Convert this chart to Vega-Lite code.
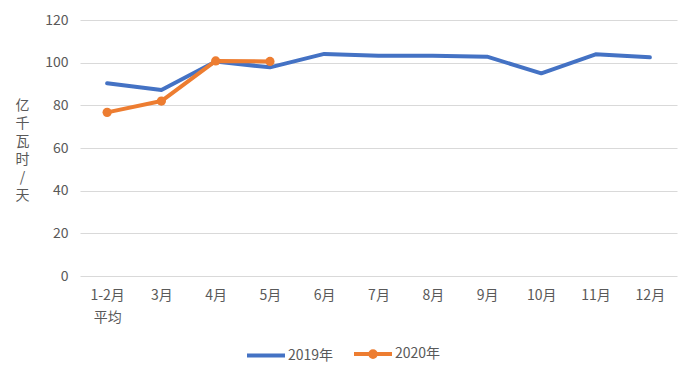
{
  "$schema": "https://vega.github.io/schema/vega-lite/v6.json",
  "width": 597,
  "height": 256,
  "autosize": {"type": "none"},
  "padding": {"left": 80, "top": 20, "right": 15, "bottom": 92},
  "background": "white",
  "config": {
    "view": {"stroke": null},
    "font": "Noto Sans CJK SC"
  },
  "data": {
    "values": [
      {"month": "1-2月|平均", "series": "2019年", "value": 90.3},
      {"month": "3月", "series": "2019年", "value": 87.2},
      {"month": "4月", "series": "2019年", "value": 100.5},
      {"month": "5月", "series": "2019年", "value": 97.8},
      {"month": "6月", "series": "2019年", "value": 104.1},
      {"month": "7月", "series": "2019年", "value": 103.3},
      {"month": "8月", "series": "2019年", "value": 103.3},
      {"month": "9月", "series": "2019年", "value": 102.8},
      {"month": "10月", "series": "2019年", "value": 95.0},
      {"month": "11月", "series": "2019年", "value": 103.9},
      {"month": "12月", "series": "2019年", "value": 102.5},
      {"month": "1-2月|平均", "series": "2020年", "value": 76.7},
      {"month": "3月", "series": "2020年", "value": 82.0},
      {"month": "4月", "series": "2020年", "value": 100.8},
      {"month": "5月", "series": "2020年", "value": 100.6}
    ]
  },
  "encoding": {
    "x": {
      "field": "month",
      "type": "ordinal",
      "sort": null,
      "scale": {"type": "point", "padding": 0.5},
      "axis": {
        "title": null,
        "labelAngle": 0,
        "labelExpr": "split(datum.label, '|')",
        "labelLineHeight": 22,
        "labelPadding": 12,
        "labelFontSize": 14,
        "labelColor": "#595959",
        "labelFont": "Noto Sans CJK SC",
        "domain": false,
        "ticks": false,
        "grid": false
      }
    },
    "y": {
      "field": "value",
      "type": "quantitative",
      "scale": {"domain": [0, 120], "nice": false},
      "axis": {
        "values": [0, 20, 40, 60, 80, 100, 120],
        "domain": false,
        "ticks": false,
        "gridColor": "#D9D9D9",
        "gridWidth": 1.2,
        "labelPadding": 12,
        "labelFontSize": 14,
        "labelColor": "#595959",
        "labelFont": "Noto Sans CJK SC",
        "title": ["亿", "千", "瓦", "时", "/", "天"],
        "titleAngle": 0,
        "titleX": -58,
        "titleY": 78,
        "titleAlign": "center",
        "titleBaseline": "top",
        "titleFontSize": 14,
        "titleFontWeight": "normal",
        "titleLineHeight": 18,
        "titleColor": "#595959",
        "titleFont": "Noto Sans CJK SC"
      }
    }
  },
  "layer": [
    {
      "mark": {"type": "line", "strokeWidth": 4, "strokeJoin": "round", "strokeCap": "round"},
      "encoding": {
        "color": {
          "field": "series",
          "type": "nominal",
          "scale": {"domain": ["2019年", "2020年"], "range": ["#4472C4", "#ED7D31"]},
          "legend": {
            "orient": "none",
            "direction": "horizontal",
            "legendX": 165,
            "legendY": 313,
            "title": null,
            "padding": 0,
            "symbolType": "stroke",
            "symbolSize": 1444,
            "symbolStrokeWidth": 4,
            "labelFontSize": 14,
            "labelColor": "#595959",
            "labelFont": "Noto Sans CJK SC",
            "labelOffset": 1,
            "columnPadding": 12,
            "encode": {
              "symbols": {
                "update": {
                  "shape": {"signal": "datum.value === '2020年' ? 'M-1,0H1M0.15,0A0.15,0.15 0 1,1 -0.15,0A0.15,0.15 0 1,1 0.15,0' : 'M-1,0H1'"},
                  "fill": {"signal": "datum.value === '2020年' ? '#ED7D31' : 'transparent'"}
                }
              }
            }
          }
        }
      }
    },
    {
      "transform": [{"filter": "datum.series === '2020年'"}],
      "mark": {"type": "point", "filled": true, "size": 85, "opacity": 1, "color": "#ED7D31"}
    }
  ]
}
